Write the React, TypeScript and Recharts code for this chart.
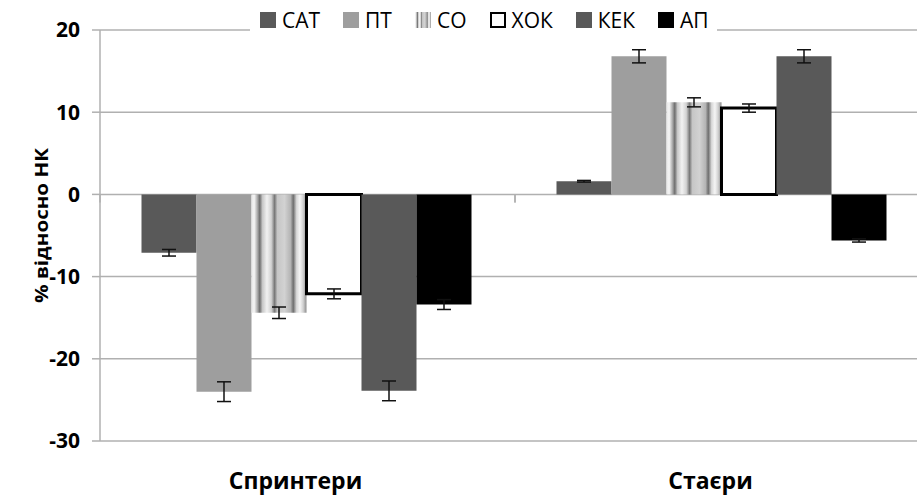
import React from "react";
import { BarChart, Bar, XAxis, YAxis, CartesianGrid, ErrorBar } from "recharts";

const categories = ["Спринтери", "Стаєри"];

const satValues = [-7.1, 1.6];
const satErrors = [0.4, 0.1];
const ptValues = [-24.0, 16.8];
const ptErrors = [1.2, 0.8];
const soValues = [-14.4, 11.2];
const soErrors = [0.7, 0.55];
const xokValues = [-12.1, 10.5];
const xokErrors = [0.6, 0.5];
const kekValues = [-23.9, 16.8];
const kekErrors = [1.2, 0.8];
const apValues = [-13.4, -5.6];
const apErrors = [0.6, 0.2];

const yTicks = [-30, -20, -10, 0, 10, 20];
const yLabel = "% відносно НК";

const legendNames = ["САТ", "ПТ", "СО", "ХОК", "КЕК", "АП"];

const data = categories.map((name, i) => ({
  name,
  sat: satValues[i],
  satErr: satErrors[i],
  pt: ptValues[i],
  ptErr: ptErrors[i],
  so: soValues[i],
  soErr: soErrors[i],
  xok: xokValues[i],
  xokErr: xokErrors[i],
  kek: kekValues[i],
  kekErr: kekErrors[i],
  ap: apValues[i],
  apErr: apErrors[i],
}));

const FONT = "'Open Sans', 'Liberation Sans', sans-serif";
const GRID = "#b0b0b0";
const CHART_W = 930;
const CHART_H = 495;
const TOP = 30;
const X_AXIS_H = 54;
const Y_MIN = -30;
const Y_MAX = 20;

const stripeStops: [number, string][] = [
  [0, "#e6e6e6"],
  [0.05, "#f5f5f5"],
  [0.11, "#a8a8a8"],
  [0.15, "#6e6e6e"],
  [0.2, "#c8c8c8"],
  [0.28, "#f2f2f2"],
  [0.36, "#d2d2d2"],
  [0.42, "#777777"],
  [0.47, "#c6c6c6"],
  [0.6, "#d2d2d2"],
  [0.71, "#b4b4b4"],
  [0.76, "#6e6e6e"],
  [0.82, "#d8d8d8"],
  [0.88, "#f5f5f5"],
  [0.94, "#d0d0d0"],
  [1, "#8c8c8c"],
];

function StripeGradient({ id }: { id: string }) {
  return (
    <linearGradient id={id} x1="0" y1="0" x2="1" y2="0">
      {stripeStops.map(([o, c]) => (
        <stop key={o} offset={o} stopColor={c} />
      ))}
    </linearGradient>
  );
}

const CategoryTick = (props: any) => {
  const { x, y, payload } = props;
  const plotH = CHART_H - TOP - X_AXIS_H;
  const zeroY = y - ((0 - Y_MIN) / (Y_MAX - Y_MIN)) * plotH;
  const half = payload.offset || 0;
  return (
    <g>
      <line x1={x - half} x2={x - half} y1={zeroY} y2={zeroY + 8} stroke={GRID} strokeWidth={1.5} />
      <line x1={x + half} x2={x + half} y1={zeroY} y2={zeroY + 8} stroke={GRID} strokeWidth={1.5} />
      <text x={x - 12} y={y + 48} textAnchor="middle" fontFamily={FONT} fontWeight="bold" fontSize={23} fill="#000">
        {payload.value}
      </text>
    </g>
  );
};

const legendIcon = (i: number) => {
  const base: React.CSSProperties = { width: 16, height: 16, boxSizing: "border-box", display: "inline-block" };
  if (i === 2) {
    return (
      <svg width={16} height={16} style={{ display: "block" }}>
        <defs>
          <StripeGradient id="legendStripes" />
        </defs>
        <rect x={0} y={0} width={16} height={16} fill="url(#legendStripes)" />
      </svg>
    );
  }
  if (i === 3) return <span style={{ ...base, background: "#fff", border: "2px solid #000" }} />;
  const colors = ["#595959", "#9e9e9e", "", "", "#595959", "#000000"];
  return <span style={{ ...base, background: colors[i] }} />;
};

export default function App() {
  return (
    <div style={{ position: "absolute", left: 0, top: 0, width: 917, height: 495, overflow: "hidden", background: "#fff" }}>
      <BarChart
        width={CHART_W}
        height={CHART_H}
        data={data}
        margin={{ top: TOP, right: 0, bottom: 0, left: 0 }}
        barCategoryGap="10%"
        barGap={0}
      >
        <defs>
          <StripeGradient id="stripes" />
        </defs>
        <CartesianGrid vertical={false} stroke={GRID} strokeWidth={1.5} />
        <XAxis
          dataKey="name"
          height={X_AXIS_H}
          axisLine={false}
          tickLine={false}
          tickSize={0}
          tickMargin={0}
          tick={<CategoryTick />}
          interval={0}
        />
        <YAxis
          width={100}
          domain={[Y_MIN, Y_MAX]}
          ticks={yTicks}
          axisLine={{ stroke: GRID, strokeWidth: 1.5 }}
          tickLine={{ stroke: GRID, strokeWidth: 1.5 }}
          tickSize={8}
          tickMargin={12}
          tick={{ fontFamily: FONT, fontWeight: "bold", fontSize: 21, fill: "#000" }}
          label={{
            content: (p: any) => {
              const vb = p.viewBox;
              const cx = vb.x + 41;
              const cy = vb.y + vb.height / 2 - 10;
              return (
                <text
                  x={cx}
                  y={cy}
                  transform={`rotate(-90 ${cx} ${cy})`}
                  textAnchor="middle"
                  dominantBaseline="central"
                  fontFamily={FONT}
                  fontWeight="bold"
                  fontSize={18}
                  textLength={155}
                  lengthAdjust="spacingAndGlyphs"
                  fill="#000"
                >
                  {yLabel}
                </text>
              );
            },
          }}
        />
        <Bar dataKey="sat" fill="#595959" isAnimationActive={false}>
          <ErrorBar dataKey="satErr" width={7} stroke="#111" strokeWidth={1.5} direction="y" />
        </Bar>
        <Bar dataKey="pt" fill="#9e9e9e" isAnimationActive={false}>
          <ErrorBar dataKey="ptErr" width={7} stroke="#111" strokeWidth={1.5} direction="y" />
        </Bar>
        <Bar dataKey="so" fill="url(#stripes)" isAnimationActive={false}>
          <ErrorBar dataKey="soErr" width={7} stroke="#111" strokeWidth={1.5} direction="y" />
        </Bar>
        <Bar dataKey="xok" fill="#ffffff" stroke="#000" strokeWidth={3} isAnimationActive={false}>
          <ErrorBar dataKey="xokErr" width={7} stroke="#111" strokeWidth={1.5} direction="y" />
        </Bar>
        <Bar dataKey="kek" fill="#595959" isAnimationActive={false}>
          <ErrorBar dataKey="kekErr" width={7} stroke="#111" strokeWidth={1.5} direction="y" />
        </Bar>
        <Bar dataKey="ap" fill="#000000" isAnimationActive={false}>
          <ErrorBar dataKey="apErr" width={7} stroke="#111" strokeWidth={1.5} direction="y" />
        </Bar>
      </BarChart>
      <div
        style={{
          position: "absolute",
          left: 250,
          top: 5,
          height: 30,
          padding: "0 8px 0 10px",
          background: "#fff",
          display: "flex",
          alignItems: "center",
          gap: 23,
          fontFamily: FONT,
          fontSize: 21,
          color: "#000",
        }}
      >
        {legendNames.map((n, i) => (
          <div key={n} style={{ display: "flex", alignItems: "center", gap: 6 }}>
            {legendIcon(i)}
            <span>{n}</span>
          </div>
        ))}
      </div>
    </div>
  );
}
